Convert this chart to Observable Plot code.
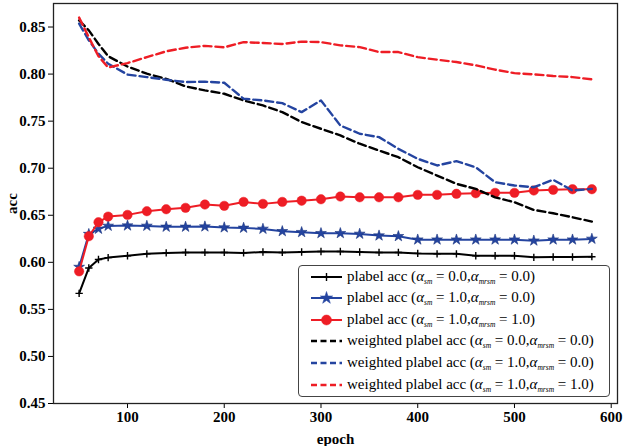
<!DOCTYPE html>
<html>
<head>
<meta charset="utf-8">
<script src="https://cdn.jsdelivr.net/npm/d3@7"></script>
<script src="https://cdn.jsdelivr.net/npm/@observablehq/plot@0.6"></script>
<style>
  html, body { margin: 0; padding: 0; background: white; }
  #wrap { position: relative; width: 624px; height: 446px; }
  #legend {
    position: absolute; left: 298px; top: 265px; width: 312px; height: 132px;
    box-sizing: border-box; border: 1.4px solid #444; border-radius: 4px; background: white;
    font-family: "Liberation Serif", serif; font-size: 15px; color: #000;
  }
  .row { position: absolute; left: 0; height: 20px; display: flex; align-items: center; white-space: nowrap; }
  .row svg { margin-left: 11px; }
  .row span { margin-left: 4px; }
  .row sub { font-size: 7.5px; font-style: italic; vertical-align: -3px; }
</style>
</head>
<body>
<div id="wrap"><div id="legend"></div></div>
<script>
const epochs = [50, 60, 70, 80, 100, 120, 140, 160, 180, 200, 220, 240, 260, 280, 300, 320, 340, 360, 380, 400, 420, 440, 460, 480, 500, 520, 540, 560, 580];

const plabel00 = [0.567, 0.594, 0.603, 0.605, 0.607, 0.609, 0.610, 0.6105, 0.6105, 0.6105, 0.610, 0.611, 0.6105, 0.611, 0.6115, 0.6115, 0.611, 0.6105, 0.6105, 0.6095, 0.609, 0.609, 0.607, 0.607, 0.607, 0.6053, 0.6057, 0.6057, 0.606];
const plabel10 = [0.595, 0.630, 0.6355, 0.6387, 0.639, 0.6387, 0.6377, 0.6377, 0.638, 0.637, 0.6366, 0.6355, 0.633, 0.632, 0.6309, 0.6309, 0.6302, 0.6284, 0.6277, 0.6241, 0.6241, 0.6241, 0.6241, 0.6241, 0.6241, 0.623, 0.6241, 0.6241, 0.6249];
const plabel11 = [0.5904, 0.6277, 0.6426, 0.6486, 0.6504, 0.6543, 0.6564, 0.6579, 0.6614, 0.660, 0.6642, 0.6621, 0.6642, 0.6655, 0.667, 0.6699, 0.6691, 0.6691, 0.6691, 0.6717, 0.6717, 0.6728, 0.6734, 0.6738, 0.6738, 0.6763, 0.677, 0.6777, 0.6777];
const weighted00 = [0.857, 0.8465, 0.832, 0.819, 0.808, 0.8004, 0.795, 0.7869, 0.7827, 0.7791, 0.772, 0.7667, 0.7596, 0.749, 0.7419, 0.7348, 0.726, 0.7188, 0.7117, 0.701, 0.6922, 0.6834, 0.678, 0.6691, 0.6638, 0.6557, 0.6521, 0.6479, 0.6433];
const weighted10 = [0.8536, 0.8359, 0.8217, 0.811, 0.7995, 0.7968, 0.794, 0.7915, 0.7919, 0.7908, 0.7738, 0.772, 0.7691, 0.7596, 0.772, 0.7454, 0.7366, 0.733, 0.7206, 0.710, 0.7029, 0.7075, 0.701, 0.6851, 0.6816, 0.6798, 0.6877, 0.6763, 0.678];
const weighted11 = [0.860, 0.839, 0.819, 0.807, 0.8117, 0.818, 0.8242, 0.828, 0.830, 0.8284, 0.834, 0.833, 0.832, 0.8345, 0.834, 0.8305, 0.8287, 0.8234, 0.8234, 0.818, 0.8153, 0.8128, 0.8093, 0.8047, 0.801, 0.7997, 0.798, 0.7968, 0.7944];

const xTicks = [100, 200, 300, 400, 500, 600];
const yTicks = [0.45, 0.50, 0.55, 0.60, 0.65, 0.70, 0.75, 0.80, 0.85];

const BLUE = "#2444a0", RED = "#ee1d25", BLACK = "#000";
const rows = (vals) => epochs.map((e, i) => ({epoch: e, v: vals[i]}));

const dash = "8,4";
const chart = Plot.plot({
  width: 624, height: 446,
  marginLeft: 53, marginRight: 7, marginTop: 3, marginBottom: 43,
  x: {domain: [23.5, 606.5]},
  y: {domain: [0.45, 0.875]},
  style: {fontFamily: "'Liberation Serif', serif", fontSize: "15px", fontWeight: "bold", color: "#000", background: "white", overflow: "visible"},
  marks: [
    Plot.axisX({ticks: xTicks, tickSize: 5, tickPadding: 3, tickFormat: d => d, label: "epoch", labelAnchor: "center", labelArrow: "none", labelOffset: 40}),
    Plot.axisY({ticks: yTicks, tickSize: 5, tickPadding: 3, tickFormat: d3.format(".2f"), label: "acc", labelAnchor: "center", labelArrow: "none", labelOffset: 47, dx: 0}),
    Plot.line(rows(plabel00), {x: "epoch", y: "v", stroke: BLACK, strokeWidth: 2}),
    Plot.dot(rows(plabel00), {x: "epoch", y: "v", symbol: "plus", r: 2.5, stroke: BLACK, strokeWidth: 1.4}),
    Plot.line(rows(plabel10), {x: "epoch", y: "v", stroke: BLUE, strokeWidth: 2}),
    Plot.dot(rows(plabel10), {x: "epoch", y: "v", symbol: "star", r: 3.4, fill: BLUE, stroke: "#1a3480", strokeWidth: 0.6}),
    Plot.line(rows(plabel11), {x: "epoch", y: "v", stroke: RED, strokeWidth: 2}),
    Plot.dot(rows(plabel11), {x: "epoch", y: "v", symbol: "circle", r: 4.7, fill: RED, stroke: RED, strokeWidth: 0.5}),
    Plot.line(rows(weighted00), {x: "epoch", y: "v", stroke: BLACK, strokeWidth: 2.4, strokeDasharray: dash}),
    Plot.line(rows(weighted10), {x: "epoch", y: "v", stroke: BLUE, strokeWidth: 2.4, strokeDasharray: dash}),
    Plot.line(rows(weighted11), {x: "epoch", y: "v", stroke: RED, strokeWidth: 2.4, strokeDasharray: dash}),
    Plot.frame({stroke: "#222", strokeWidth: 1.3})
  ]
});
document.getElementById("wrap").prepend(chart);

// legend
const legendItems = [
  {kind: "plabel", color: BLACK, sym: "plus", a: "0.0", b: "0.0"},
  {kind: "plabel", color: BLUE, sym: "star", a: "1.0", b: "0.0"},
  {kind: "plabel", color: RED, sym: "circle", a: "1.0", b: "1.0"},
  {kind: "weighted", color: BLACK, a: "0.0", b: "0.0"},
  {kind: "weighted", color: BLUE, a: "1.0", b: "0.0"},
  {kind: "weighted", color: RED, a: "1.0", b: "1.0"}
];
const legend = d3.select("#legend");
legendItems.forEach((it, i) => {
  const row = legend.append("div").attr("class", "row").style("top", (0.5 + i * 21.6) + "px");
  const svg = row.append("svg").attr("width", 33).attr("height", 20);
  svg.append("line").attr("x1", 1).attr("x2", 32).attr("y1", 10).attr("y2", 10)
    .attr("stroke", it.color).attr("stroke-width", it.kind === "plabel" ? 2 : 2.4)
    .attr("stroke-dasharray", it.kind === "plabel" ? null : "6,3.5");
  if (it.sym) {
    const area = it.sym === "plus" ? Math.PI * 2.7 * 2.7 : it.sym === "star" ? Math.PI * 3.9 * 3.9 : Math.PI * 5 * 5;
    const symType = it.sym === "plus" ? d3.symbolPlus : it.sym === "star" ? d3.symbolStar : d3.symbolCircle;
    const p = svg.append("path").attr("d", d3.symbol(symType, area)()).attr("transform", "translate(16.5,10)");
    if (it.sym === "plus") p.attr("fill", "none").attr("stroke", it.color).attr("stroke-width", 1.4);
    else p.attr("fill", it.color).attr("stroke", it.color).attr("stroke-width", 0.5);
  }
  const name = it.kind === "plabel" ? "plabel acc" : "weighted plabel acc";
  row.append("span").html(`${name} (<i>α</i><sub>sm</sub> = ${it.a},<i>α</i><sub>mrsm</sub> = ${it.b})`);
});
</script>
</body>
</html>
